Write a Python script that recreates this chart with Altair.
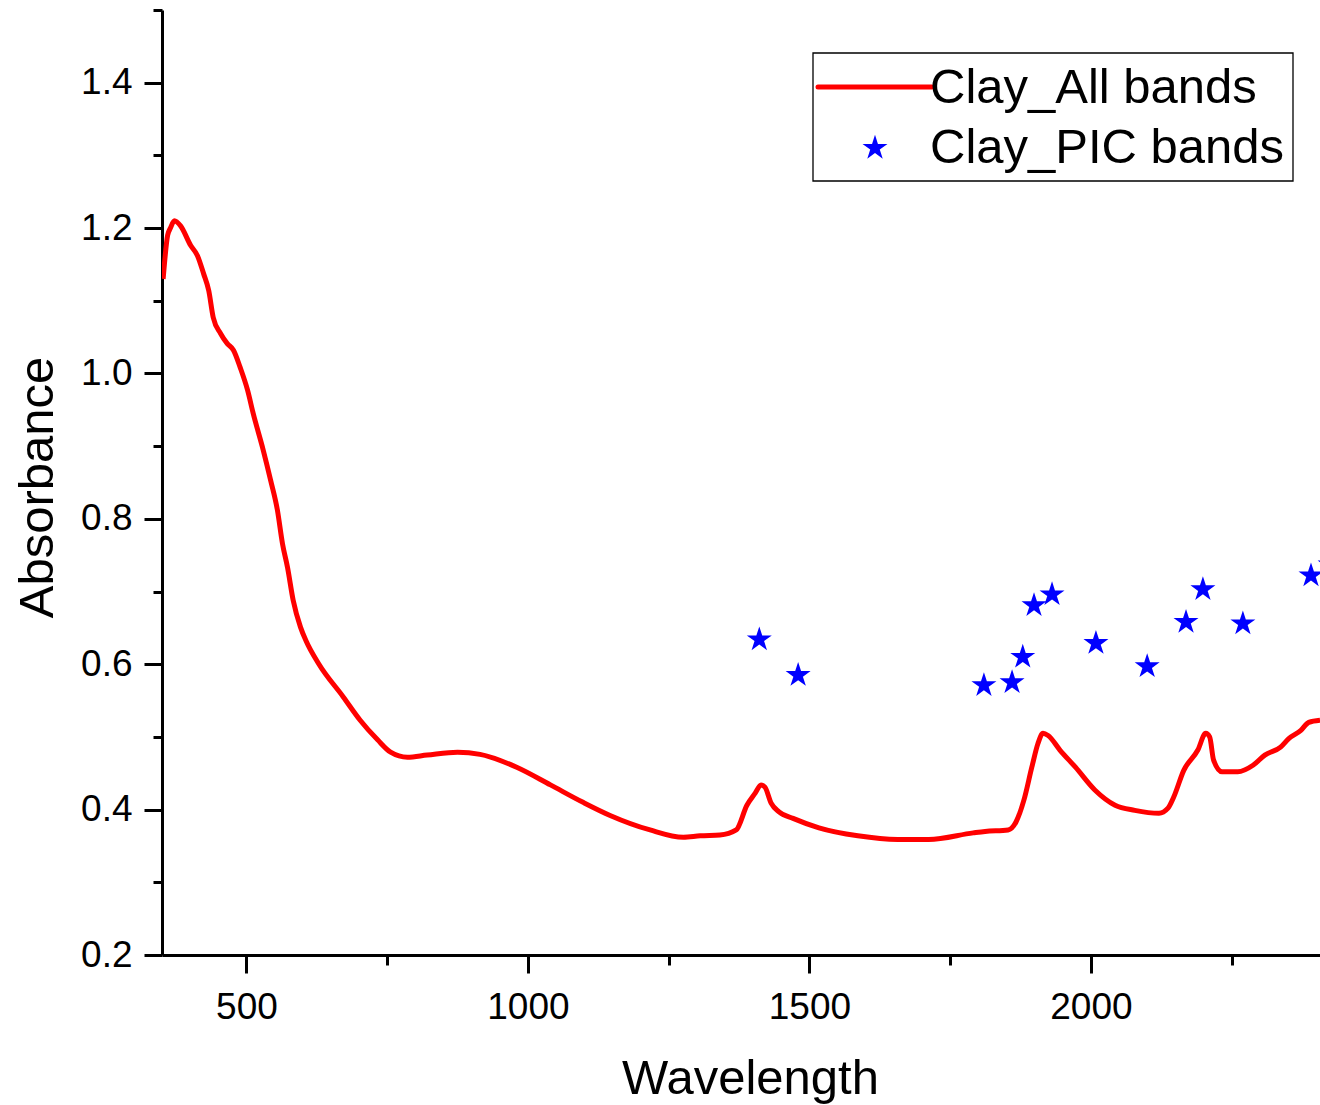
import altair as alt
import pandas as pd

# ---- data ----
series_names = ["Clay_All bands", "Clay_PIC bands"]

wavelength = [352, 360, 365, 372, 383, 401, 413, 424, 433, 441, 454, 466, 477, 489,
              502, 512, 530, 543, 555, 564, 573, 583, 596, 606, 628, 672, 702, 733,
              756, 786, 821, 875, 915, 981, 1040, 1098, 1146, 1217, 1276, 1306, 1341,
              1370, 1389, 1404, 1414, 1421, 1432, 1446, 1471, 1517, 1586, 1657, 1712,
              1791, 1812, 1853, 1867, 1881, 1895, 1906, 1915, 1924, 1945, 1973, 2007,
              2043, 2078, 2121, 2137, 2147, 2165, 2190, 2204, 2211, 2218, 2233, 2261,
              2288, 2309, 2337, 2352, 2373, 2387, 2407]
absorbance = [1.130, 1.190, 1.200, 1.210, 1.203, 1.176, 1.162, 1.137, 1.114, 1.077,
              1.055, 1.041, 1.032, 1.008, 0.977, 0.945, 0.894, 0.853, 0.812, 0.766,
              0.733, 0.688, 0.651, 0.632, 0.601, 0.555, 0.523, 0.496, 0.479, 0.472,
              0.475, 0.479, 0.476, 0.458, 0.434, 0.410, 0.392, 0.372, 0.362, 0.364,
              0.365, 0.372, 0.406, 0.423, 0.434, 0.431, 0.409, 0.397, 0.388, 0.375,
              0.364, 0.359, 0.359, 0.368, 0.370, 0.372, 0.383, 0.413, 0.458, 0.491,
              0.505, 0.502, 0.482, 0.458, 0.427, 0.406, 0.399, 0.395, 0.402, 0.417,
              0.454, 0.482, 0.505, 0.500, 0.468, 0.452, 0.452, 0.461, 0.475, 0.486,
              0.498, 0.509, 0.520, 0.523]

pic_wavelength = [1411, 1480, 1810, 1860, 1879, 1899, 1931, 2009, 2100, 2169, 2199, 2270, 2391, 2425]
pic_absorbance = [0.634, 0.585, 0.571, 0.575, 0.610, 0.681, 0.696, 0.629, 0.597, 0.658, 0.703, 0.656, 0.722, 0.737]

x_ticks = [500, 750, 1000, 1250, 1500, 1750, 2000, 2250]
y_ticks = [0.2, 0.3, 0.4, 0.5, 0.6, 0.7, 0.8, 0.9, 1.0, 1.1, 1.2, 1.3, 1.4, 1.5]

line_df = pd.DataFrame({"wl": wavelength, "abs": absorbance, "series": series_names[0]})
pic_df = pd.DataFrame({"wl": pic_wavelength, "abs": pic_absorbance, "series": series_names[1]})

FONT = "Liberation Sans"
# five-pointed star symbol in Vega's [-1, 1] symbol space
STAR = ("M0,-1L0.2245,-0.309L0.951,-0.309L0.3633,0.118L0.588,0.809L0,0.382"
        "L-0.588,0.809L-0.3633,0.118L-0.951,-0.309L-0.2245,-0.309Z")
STAR_SIZE = 690
LINE_W = 5

x_scale = alt.Scale(domain=[350, 2407], nice=False, zero=False)
y_scale = alt.Scale(domain=[0.2, 1.5], nice=False, zero=False)

x_axis = alt.Axis(
    title="Wavelength", orient="bottom", values=x_ticks,
    labelExpr="datum.value % 500 == 0 ? format(datum.value, 'd') : ''",
    tickSize={"condition": {"test": "datum.value % 500 != 0", "value": 10}, "value": 18},
    labelOverlap=False, labelFlush=False, grid=False,
    titleX=588, titleY=138, titleBaseline="alphabetic", labelPadding=16,
)

y_axis = alt.Axis(
    title="Absorbance", orient="left", values=y_ticks,
    labelExpr="round(datum.value * 10) % 2 == 0 ? format(datum.value, '.1f') : ''",
    tickSize={"condition": {"test": "round(datum.value * 10) % 2 != 0", "value": 9}, "value": 18},
    labelOverlap=False, labelFlush=False, grid=False,
    titleX=-110, titleY=477, titleBaseline="alphabetic", labelPadding=12,
)

line = alt.Chart(line_df).mark_line(
    color="#ff0000", strokeWidth=LINE_W, interpolate="monotone", clip=True
).encode(
    x=alt.X("wl:Q", scale=x_scale, axis=x_axis),
    y=alt.Y("abs:Q", scale=y_scale, axis=y_axis),
)

stars = alt.Chart(pic_df).mark_point(
    shape=STAR, filled=True, color="#0000ff", size=STAR_SIZE, opacity=1, clip=True
).encode(
    x=alt.X("wl:Q", scale=x_scale),
    y=alt.Y("abs:Q", scale=y_scale),
)

# ---- legend box ----
leg_df = pd.DataFrame({"name": series_names})
box = alt.Chart(leg_df.head(1)).mark_rect(
    fill="white", stroke="#000000", strokeWidth=1.3
).encode(
    x=alt.value(651), x2=alt.value(1131), y=alt.value(43), y2=alt.value(171)
)
leg_line = alt.Chart(leg_df.head(1)).mark_rule(
    color="#ff0000", strokeWidth=LINE_W, strokeCap="round"
).encode(
    x=alt.value(656), x2=alt.value(770), y=alt.value(77)
)
leg_star = alt.Chart(leg_df.head(1)).mark_point(
    shape=STAR, filled=True, color="#0000ff", size=STAR_SIZE, opacity=1
).encode(
    x=alt.value(713), y=alt.value(138)
)
leg_text1 = alt.Chart(leg_df.head(1)).mark_text(
    align="left", baseline="alphabetic", fontSize=49, font=FONT, color="black"
).encode(
    x=alt.value(768), y=alt.value(93), text="name:N"
)
leg_text2 = alt.Chart(leg_df.tail(1)).mark_text(
    align="left", baseline="alphabetic", fontSize=49, font=FONT, color="black"
).encode(
    x=alt.value(768), y=alt.value(153), text="name:N"
)

chart = alt.layer(line, stars, box, leg_line, leg_star, leg_text1, leg_text2).properties(
    width=1158, height=945,
    autosize=alt.AutoSizeParams(type="none"),
    padding={"left": 162, "top": 10, "right": 0, "bottom": 150},
    background="white",
).configure_view(stroke=None).configure_axis(
    domainColor="black", domainWidth=3, tickColor="black", tickWidth=3,
    labelFont=FONT, labelFontSize=37, labelColor="black",
    titleFont=FONT, titleFontSize=49, titleColor="black", titleFontWeight="normal",
)

chart.save("out.html", embed_options={"renderer": "svg", "actions": False})
